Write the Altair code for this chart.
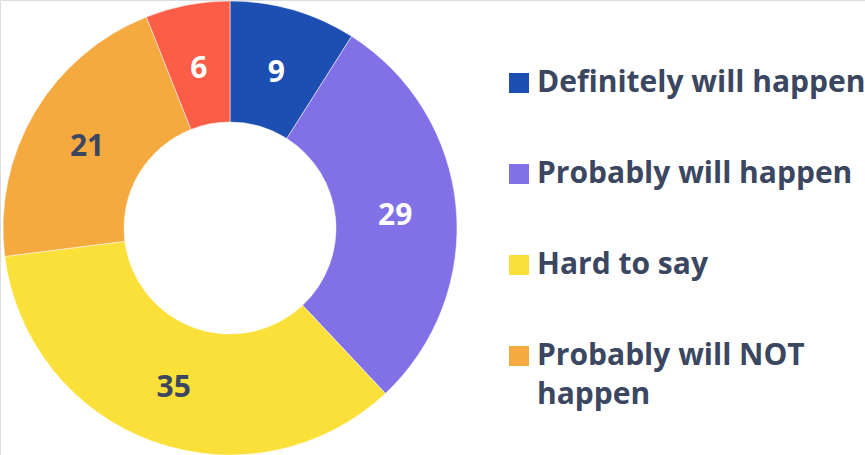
import altair as alt
import pandas as pd

categories = ["Definitely will happen", "Probably will happen", "Hard to say",
              "Probably will NOT happen", "Definitely will NOT happen"]
values = [9, 29, 35, 21, 6]
colors = ["#1d4fb2", "#8270e6", "#fbe039", "#f5aa40", "#fb5d47"]
label_colors = ["#ffffff", "#ffffff", "#3b4660", "#3b4660", "#ffffff"]

df = pd.DataFrame({
    "category": categories,
    "value": values,
    "order": list(range(len(categories))),
    "lc": label_colors,
})

FONT = "Open Sans"
CX, CY = 230, 228

base = alt.Chart(df).encode(
    theta=alt.Theta("value:Q", stack=True),
    order=alt.Order("order:Q"),
    x=alt.value(CX),
    y=alt.value(CY),
)

arcs = base.mark_arc(outerRadius=227, innerRadius=106, stroke="#ffffff", strokeWidth=0.5).encode(
    color=alt.Color(
        "category:N",
        scale=alt.Scale(domain=categories, range=colors),
        sort=categories,
        legend=alt.Legend(
            title=None,
            orient="none",
            legendX=504,
            legendY=68,
            symbolType="square",
            symbolSize=400,
            symbolStrokeWidth=0,
            labelFont=FONT,
            labelFontSize=30,
            labelFontWeight="bold",
            labelColor="#3b4660",
            labelLimit=600,
            labelOffset=3,
            rowPadding=61,
            padding=0,
            labelExpr="datum.label == 'Probably will NOT happen' ? ['Probably will NOT', 'happen'] : datum.label",
            labelBaseline="middle",
        ),
    ),
)

labels = base.mark_text(radius=166, dy=4, font=FONT, fontSize=30, fontWeight="bold").encode(
    text=alt.Text("value:Q"),
    color=alt.Color("lc:N", scale=None),
)

chart = (arcs + labels).properties(
    width=865, height=455, padding=0,
    autosize=alt.AutoSizeParams(type="none"),
).configure_view(stroke=None).configure(style={"guide-label": {"lineHeight": 39}})

chart.save("out.html", embed_options={"renderer": "svg", "actions": False})
